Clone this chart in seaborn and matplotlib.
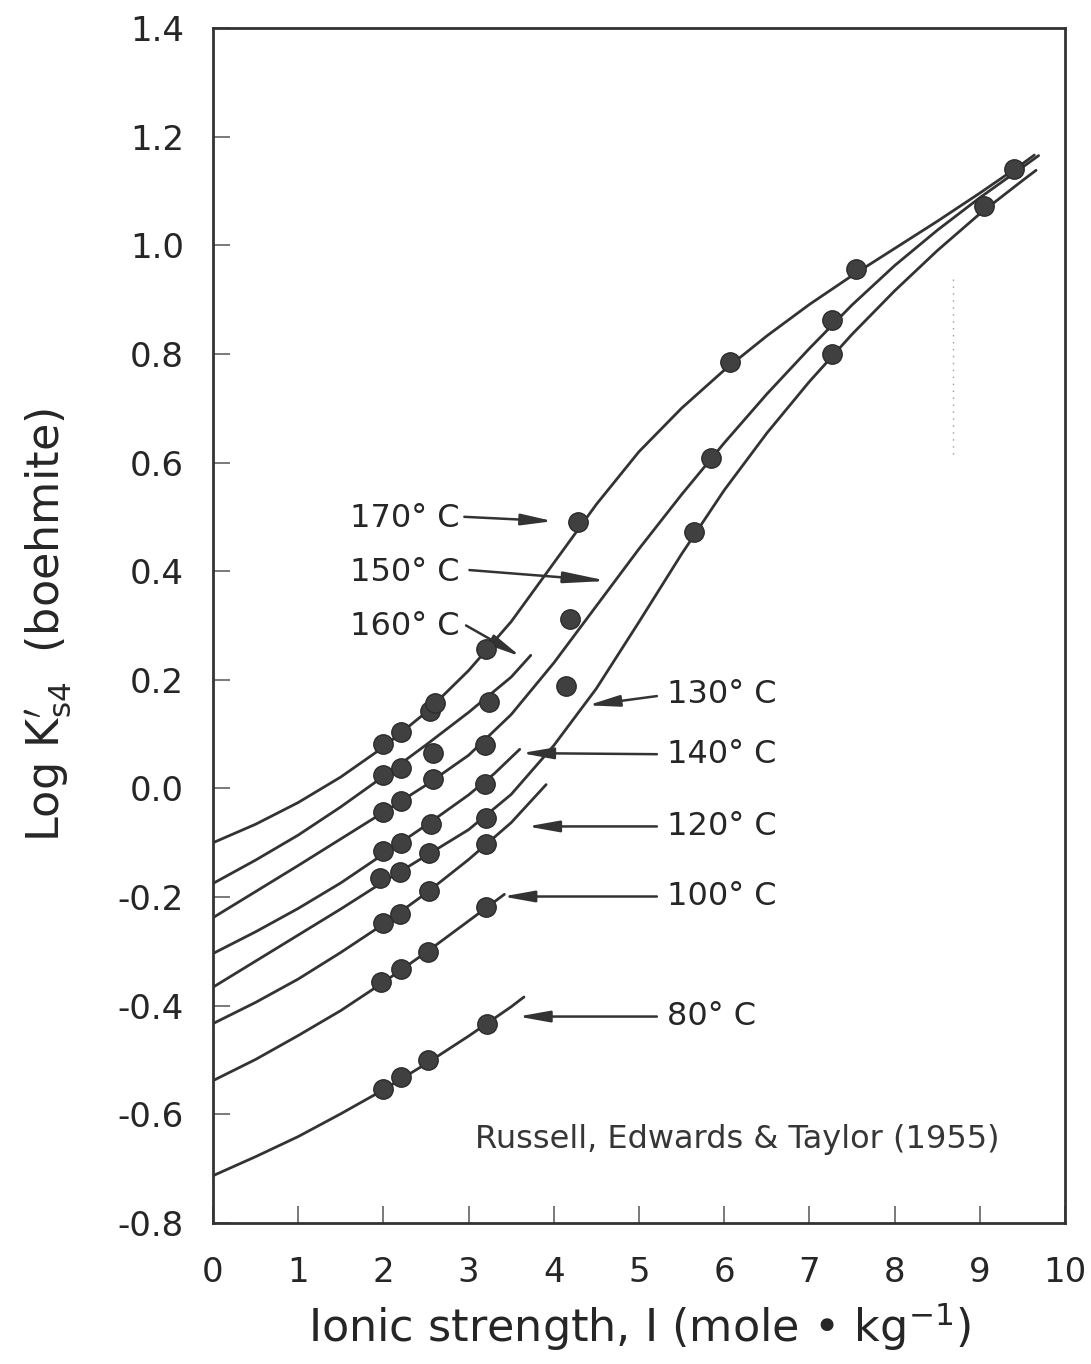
import matplotlib
matplotlib.use("Agg")
import matplotlib.pyplot as plt
import seaborn as sns
import pandas as pd
from matplotlib.ticker import FormatStrFormatter

# ---------------- data ----------------
# smooth fitted curves (I, log K's4)
c170_x = [0, 0.5, 1, 1.5, 2, 2.5, 3, 3.5, 4, 4.5, 5, 5.5, 6, 6.5, 7, 7.5, 8, 8.5, 9, 9.5, 9.64]
c170_y = [-0.10, -0.066, -0.026, 0.021, 0.076, 0.14, 0.217, 0.307, 0.415, 0.523, 0.62, 0.70, 0.77, 0.833, 0.891, 0.944, 0.994, 1.044, 1.096, 1.15, 1.166]
c150_x = [0, 0.5, 1, 1.5, 2, 2.5, 3, 3.5, 4, 4.5, 5, 5.5, 6, 6.5, 7, 7.5, 8, 8.5, 9, 9.5, 9.69]
c150_y = [-0.238, -0.19, -0.142, -0.093, -0.044, 0.006, 0.061, 0.136, 0.231, 0.336, 0.441, 0.541, 0.636, 0.726, 0.81, 0.89, 0.9625, 1.0275, 1.0875, 1.1435, 1.165]
c130_x = [0, 0.5, 1, 1.5, 2, 2.5, 3, 3.5, 4, 4.5, 5, 5.5, 6, 6.5, 7, 7.5, 8, 8.5, 9, 9.5, 9.66]
c130_y = [-0.366, -0.318, -0.27, -0.222, -0.172, -0.124, -0.076, -0.011, 0.079, 0.184, 0.3065, 0.4315, 0.549, 0.654, 0.749, 0.836, 0.916, 0.99, 1.058, 1.119, 1.138]
c160_x = [0, 0.5, 1, 1.5, 2, 2.5, 3, 3.5, 3.73]
c160_y = [-0.175, -0.132, -0.086, -0.034, 0.022, 0.08, 0.14, 0.205, 0.245]
c140_x = [0, 0.5, 1, 1.5, 2, 2.5, 3, 3.3, 3.6]
c140_y = [-0.304, -0.264, -0.221, -0.174, -0.121, -0.068, -0.012, 0.027, 0.072]
c120_x = [0, 0.5, 1, 1.5, 2, 2.5, 3, 3.5, 3.91]
c120_y = [-0.433, -0.394, -0.351, -0.302, -0.25, -0.193, -0.131, -0.063, 0.007]
c100_x = [0, 0.5, 1, 1.5, 2, 2.5, 3, 3.42]
c100_y = [-0.538, -0.499, -0.455, -0.409, -0.357, -0.302, -0.244, -0.195]
c80_x = [0, 0.5, 1, 1.5, 2, 2.5, 3, 3.5, 3.65]
c80_y = [-0.713, -0.678, -0.641, -0.599, -0.555, -0.507, -0.456, -0.402, -0.384]

# measured points
p170_x = [1.99, 2.21, 2.55, 2.60, 3.20, 4.28, 6.07, 7.55, 9.40]
p170_y = [0.081, 0.103, 0.142, 0.158, 0.256, 0.49, 0.785, 0.957, 1.141]
p160_x = [1.99, 2.21, 2.58, 3.24]
p160_y = [0.024, 0.037, 0.066, 0.16]
p150_x = [1.99, 2.21, 2.58, 3.19, 4.19, 5.85, 7.26]
p150_y = [-0.043, -0.024, 0.018, 0.08, 0.312, 0.609, 0.862]
p140_x = [1.99, 2.21, 2.56, 3.19]
p140_y = [-0.116, -0.10, -0.066, 0.009]
p130_x = [1.96, 2.19, 2.54, 3.20, 4.14, 5.64, 7.26, 9.05]
p130_y = [-0.165, -0.153, -0.118, -0.055, 0.188, 0.472, 0.80, 1.073]
p120_x = [1.99, 2.19, 2.54, 3.20]
p120_y = [-0.247, -0.232, -0.188, -0.103]
p100_x = [1.97, 2.21, 2.52, 3.21]
p100_y = [-0.357, -0.333, -0.302, -0.219]
p80_x = [1.99, 2.21, 2.52, 3.22]
p80_y = [-0.553, -0.532, -0.50, -0.433]

# temperature labels: text, text anchor, arrow tail, arrow tip
labels = ["170\u00b0 C", "150\u00b0 C", "160\u00b0 C", "130\u00b0 C", "140\u00b0 C", "120\u00b0 C", "100\u00b0 C", "80\u00b0 C"]
label_x = [1.61, 1.61, 1.61, 5.33, 5.33, 5.33, 5.33, 5.33]
label_y = [0.496, 0.398, 0.299, 0.173, 0.063, -0.070, -0.199, -0.420]
tail_x = [2.95, 3.01, 2.97, 5.21, 5.21, 5.21, 5.21, 5.21]
tail_y = [0.500, 0.402, 0.300, 0.170, 0.063, -0.070, -0.199, -0.420]
tip_x = [3.99, 4.63, 3.61, 4.40, 3.62, 3.69, 3.40, 3.58]
tip_y = [0.492, 0.382, 0.243, 0.153, 0.065, -0.070, -0.199, -0.420]

source_text = "Russell, Edwards & Taylor (1955)"
x_ticks = list(range(0, 11))
y_ticks = [-0.8, -0.6, -0.4, -0.2, 0.0, 0.2, 0.4, 0.6, 0.8, 1.0, 1.2, 1.4]

# faint scanning mark in the reference
mark_x = [8.68, 8.68]
mark_y = [0.616, 0.947]

# ---------------- drawing ----------------
sns.set_theme(style="white")
plt.rcParams['font.family'] = ['DejaVu Sans']
plt.rcParams['axes.unicode_minus'] = False

curves = {"170": (c170_x, c170_y), "150": (c150_x, c150_y), "130": (c130_x, c130_y),
          "160": (c160_x, c160_y), "140": (c140_x, c140_y), "120": (c120_x, c120_y),
          "100": (c100_x, c100_y), "80": (c80_x, c80_y)}
points = {"170": (p170_x, p170_y), "160": (p160_x, p160_y), "150": (p150_x, p150_y),
          "140": (p140_x, p140_y), "130": (p130_x, p130_y), "120": (p120_x, p120_y),
          "100": (p100_x, p100_y), "80": (p80_x, p80_y)}

curve_df = pd.concat([pd.DataFrame({"I": cx, "logK": cy, "T": k}) for k, (cx, cy) in curves.items()],
                     ignore_index=True)
point_df = pd.concat([pd.DataFrame({"I": px, "logK": py, "T": k}) for k, (px, py) in points.items()],
                     ignore_index=True)

ink = "#333333"
fig = plt.figure(figsize=(10.91, 13.64), dpi=100)
ax = fig.add_axes([0.1952, 0.1034, 0.7810, 0.8761])

sns.lineplot(data=curve_df, x="I", y="logK", units="T", estimator=None, sort=False,
             color=ink, lw=2.0, ax=ax, legend=False)
sns.scatterplot(data=point_df, x="I", y="logK", color="#404040", edgecolor="#2c2c2c",
                linewidth=1.0, s=195, ax=ax, legend=False, zorder=5)

ax.plot(mark_x, mark_y, ls=(0, (1, 4)), color="#9a9a9a", lw=1.0)

for t, lx, ly, ax0, ay0, ax1, ay1 in zip(labels, label_x, label_y, tail_x, tail_y, tip_x, tip_y):
    ax.text(lx, ly, t, fontsize=23, color="#262626", ha="left", va="center")
    hl = 2.6 if t.startswith("150") else 1.9
    ax.annotate("", xy=(ax1, ay1), xytext=(ax0, ay0),
                arrowprops=dict(arrowstyle=f"-|>,head_length={hl},head_width=0.34",
                                lw=1.8, color=ink, shrinkA=0, shrinkB=0, mutation_scale=10))

ax.text(3.07, -0.647, source_text, fontsize=23, color="#363636", ha="left", va="center")

ax.set_xlim(0, 10)
ax.set_ylim(-0.8, 1.4)
ax.set_xticks(x_ticks)
ax.set_yticks(y_ticks)
ax.yaxis.set_major_formatter(FormatStrFormatter('%.1f'))
ax.tick_params(axis="both", direction="in", length=12, width=1.1, color="#555555",
               labelsize=24.5, labelcolor="#262626", left=True, bottom=True, top=False, right=False)
ax.tick_params(axis="x", pad=24)
ax.tick_params(axis="y", pad=21)
for sp in ax.spines.values():
    sp.set_color("#333333")
    sp.set_linewidth(2.0)

ax.set_xlabel("Ionic strength, I (mole \u2022 kg$^{-1}$)", fontsize=32, color="#262626", labelpad=8)
ax.set_ylabel(r"Log K$^{\prime}_{\rm s4}$  (boehmite)", fontsize=32, color="#262626", labelpad=32)

fig.savefig("out.png", dpi=100, facecolor="white")
